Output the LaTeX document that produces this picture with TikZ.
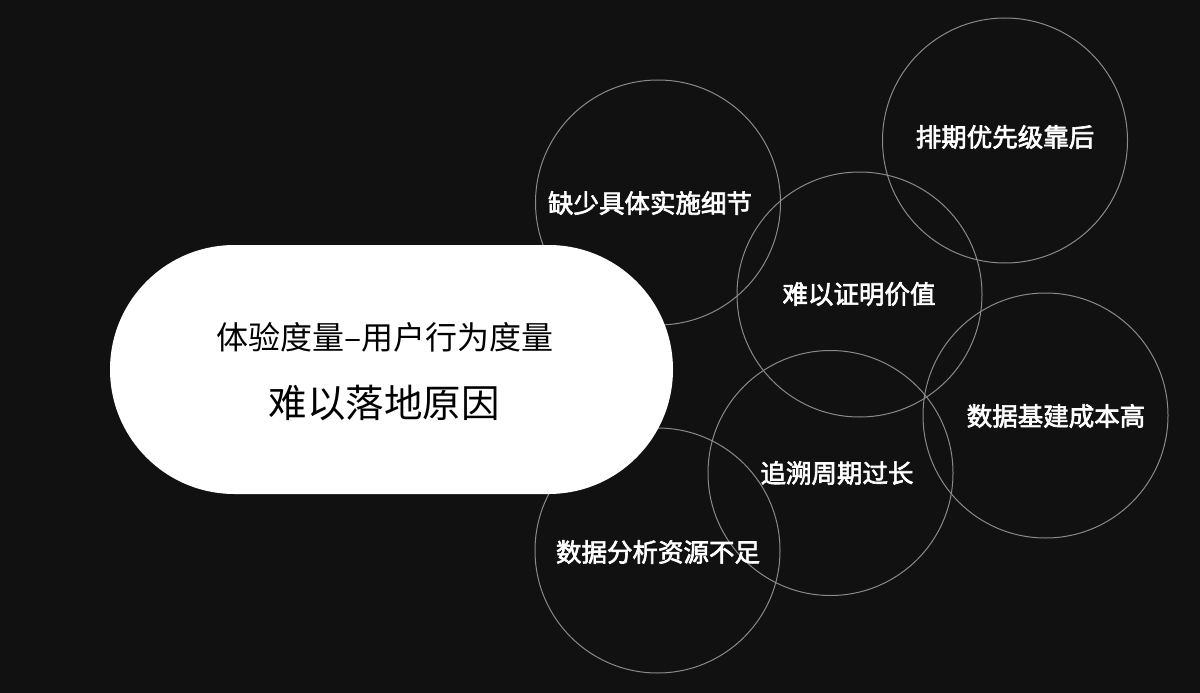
\documentclass[tikz,border=0pt]{standalone}
\usepackage{fontspec}
\newfontfamily\cjk{Noto Sans CJK SC}
\newfontfamily\cjkm[FakeBold=2.5]{Noto Sans CJK SC}
\definecolor{bg}{HTML}{111111}
\definecolor{ring}{HTML}{8A8A8A}
\begin{document}
\begin{tikzpicture}[x=1pt,y=-1pt,
  ringc/.style={circle, draw=ring, line width=1pt, minimum size=245pt, inner sep=0pt},
  lab/.style={text=white, font=\cjkm\fontsize{25.5}{30}\selectfont, inner sep=0pt},
  pill/.style={fill=white, rounded corners=124.5pt, minimum width=563pt, minimum height=249pt, inner sep=0pt}]
\fill[bg] (0,0) rectangle (1200,693);
\useasboundingbox (0,0) rectangle (1200,693);
% circles
\node[ringc] (c1) at (658,202.5) {};
\node[ringc] (c2) at (1005,140.5) {};
\node[ringc] (c3) at (859.5,294.5) {};
\node[ringc] (c4) at (1045.5,415.5) {};
\node[ringc] (c5) at (830.5,473) {};
\node[ringc] (c6) at (657.5,550.5) {};
% central pill
\node[pill] (p) at (391.5,369.5) {};
\node[font=\cjk\fontsize{32}{38}\selectfont, text=black, inner sep=0pt] (p1) at (385,337) {体验度量–用户行为度量};
\node[font=\cjk\fontsize{38.5}{46}\selectfont, text=black, inner sep=0pt] (p2) at (384,403) {难以落地原因};
% labels
\node[lab] (t1) at (650,203) {缺少具体实施细节};
\node[lab] (t2) at (1005,137) {排期优先级靠后};
\node[lab] (t3) at (859,294) {难以证明价值};
\node[lab] (t4) at (1056,416) {数据基建成本高};
\node[lab] (t5) at (837,473) {追溯周期过长};
\node[lab] (t6) at (658,552) {数据分析资源不足};
\end{tikzpicture}
\end{document}
